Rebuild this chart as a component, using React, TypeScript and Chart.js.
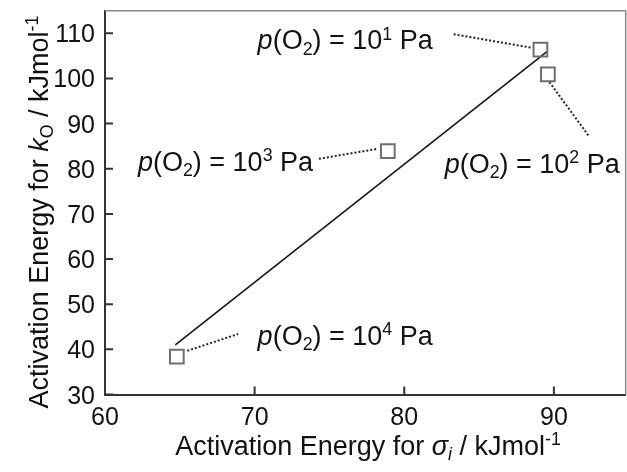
import React, { useEffect, useRef } from "react";
import { Chart, registerables } from "chart.js";

Chart.register(...registerables);

// ---- data ----
const xTickValues = [60, 70, 80, 90];
const yTickValues = [30, 40, 50, 60, 70, 80, 90, 100, 110];
const xMin = 60;
const xMax = 94.8;
const yMin = 30;
const yMax = 115;

// p(O2) exponents (Pa = 10^n)
const pressureExponents = ["1", "2", "3", "4"];
const sigmaEnergy = [89.1, 89.6, 78.9, 64.8]; // Activation energy for sigma_i
const kEnergy = [106.4, 100.9, 83.9, 38.4]; // Activation energy for k_O

const fitLineX = [64.7, 89.6];
const fitLineY = [41.0, 106.1];

// leader (dotted) lines between label and point, in data units
const leaderFromX = [83.3, 89.7, 74.3, 65.5];
const leaderFromY = [109.8, 99.2, 82.2, 39.7];
const leaderToX = [88.5, 92.3, 78.2, 68.9];
const leaderToY = [106.8, 87.4, 84.4, 43.4];

// label anchors (left edge, vertical middle) in data units
const labelAnchorX = [70.2, 82.7, 62.2, 70.2];
const labelAnchorY = [108.6, 81.2, 81.7, 43.2];

const FONT = "'Liberation Sans', Arial, Helvetica, sans-serif";
const TICK_SIZE = 25;
const LABEL_SIZE = 27;
const TITLE_SIZE = 27;

type Seg = { t: string; it?: boolean; sub?: boolean; sup?: boolean };

function segFont(s: Seg, size: number) {
  const sz = s.sub || s.sup ? size * 0.66 : size;
  return `${s.it ? "italic " : ""}${sz}px ${FONT}`;
}

function measureRich(ctx: CanvasRenderingContext2D, segs: Seg[], size: number) {
  let w = 0;
  for (const s of segs) {
    ctx.font = segFont(s, size);
    w += ctx.measureText(s.t).width;
  }
  return w;
}

function drawRich(
  ctx: CanvasRenderingContext2D,
  segs: Seg[],
  x: number,
  baseline: number,
  size: number
) {
  let cx = x;
  ctx.textBaseline = "alphabetic";
  ctx.textAlign = "left";
  for (const s of segs) {
    ctx.font = segFont(s, size);
    let y = baseline;
    if (s.sub) y += size * 0.2;
    if (s.sup) y -= size * 0.36;
    ctx.fillText(s.t, cx, y);
    cx += ctx.measureText(s.t).width;
  }
}

function pressureLabel(exp: string): Seg[] {
  return [
    { t: "p", it: true },
    { t: "(O" },
    { t: "2", sub: true },
    { t: ") = 10" },
    { t: exp, sup: true },
    { t: " Pa" },
  ];
}

const xTitle: Seg[] = [
  { t: "Activation Energy for " },
  { t: "\u03c3", it: true },
  { t: "i", it: true, sub: true },
  { t: " / kJmol" },
  { t: "-1", sup: true },
];
const yTitle: Seg[] = [
  { t: "Activation Energy for " },
  { t: "k", it: true },
  { t: "O", sub: true },
  { t: " / kJmol" },
  { t: "-1", sup: true },
];

const decorPlugin = {
  id: "decor",
  afterDraw(chart: any) {
    const ctx: CanvasRenderingContext2D = chart.ctx;
    const { left, right, top, bottom } = chart.chartArea;
    const xs = chart.scales.x;
    const ys = chart.scales.y;
    ctx.save();

    // top and right frame
    ctx.strokeStyle = "#8a8a8a";
    ctx.lineWidth = 1.5;
    ctx.beginPath();
    ctx.moveTo(left, top);
    ctx.lineTo(right, top);
    ctx.lineTo(right, bottom);
    ctx.stroke();

    // inward tick marks
    ctx.strokeStyle = "#333";
    ctx.lineWidth = 2;
    ctx.beginPath();
    for (const v of xTickValues) {
      const px = xs.getPixelForValue(v);
      ctx.moveTo(px, bottom);
      ctx.lineTo(px, bottom - 8);
    }
    for (const v of yTickValues) {
      const py = ys.getPixelForValue(v);
      ctx.moveTo(left, py);
      ctx.lineTo(left + 8, py);
    }
    ctx.stroke();

    // tick labels
    ctx.fillStyle = "#111";
    ctx.font = `${TICK_SIZE}px ${FONT}`;
    ctx.textAlign = "center";
    ctx.textBaseline = "alphabetic";
    for (const v of xTickValues) {
      const px = xs.getPixelForValue(v);
      ctx.fillText(String(v), px, bottom + 12 + TICK_SIZE * 0.72);
    }
    ctx.textAlign = "right";
    for (const v of yTickValues) {
      const py = ys.getPixelForValue(v);
      ctx.fillText(String(v), left - 10, py + TICK_SIZE * 0.36);
    }

    // point annotations
    for (let i = 0; i < pressureExponents.length; i++) {
      const px = xs.getPixelForValue(labelAnchorX[i]);
      const py = ys.getPixelForValue(labelAnchorY[i]);
      drawRich(ctx, pressureLabel(pressureExponents[i]), px, py + LABEL_SIZE * 0.36, LABEL_SIZE);
    }

    // x title
    const xw = measureRich(ctx, xTitle, TITLE_SIZE);
    const xc = 368;
    drawRich(ctx, xTitle, xc - xw / 2, 455, TITLE_SIZE);

    // y title
    const yw = measureRich(ctx, yTitle, TITLE_SIZE);
    ctx.save();
    ctx.translate(48, 212);
    ctx.rotate(-Math.PI / 2);
    drawRich(ctx, yTitle, -yw / 2, 0, TITLE_SIZE);
    ctx.restore();

    ctx.restore();
  },
};

export default function App() {
  const ref = useRef<HTMLCanvasElement | null>(null);

  useEffect(() => {
    if (!ref.current) return;
    const leaderSets = pressureExponents.map((_, i) => ({
      label: "leader" + i,
      data: [
        { x: leaderFromX[i], y: leaderFromY[i] },
        { x: leaderToX[i], y: leaderToY[i] },
      ],
      showLine: true,
      borderColor: "#222",
      borderWidth: 2,
      borderDash: [2, 2],
      pointRadius: 0,
      order: 2,
    }));
    const chart = new Chart(ref.current, {
      type: "scatter",
      data: {
        datasets: [
          {
            label: "points",
            data: sigmaEnergy.map((x, i) => ({ x, y: kEnergy[i] })),
            pointStyle: "rect",
            pointRadius: 9.7,
            pointBorderWidth: 2,
            pointBorderColor: "#6e6e6e",
            pointBackgroundColor: "rgba(255,255,255,0)",
            showLine: false,
            order: 0,
          } as any,
          {
            label: "fit",
            data: fitLineX.map((x, i) => ({ x, y: fitLineY[i] })),
            showLine: true,
            borderColor: "#151515",
            borderWidth: 1.6,
            pointRadius: 0,
            order: 1,
          } as any,
          ...(leaderSets as any[]),
        ],
      },
      options: {
        animation: false,
        responsive: false,
        devicePixelRatio: 1,
        layout: { autoPadding: false, padding: { left: 105, right: 1.3, top: 10.7, bottom: 77.5 } },
        plugins: { legend: { display: false }, tooltip: { enabled: false } },
        scales: {
          x: {
            type: "linear",
            min: xMin,
            max: xMax,
            grid: { display: false },
            ticks: { display: false },
            border: { display: true, color: "#333", width: 2 },
            afterFit: (s: any) => {
              s.height = 0;
            },
          },
          y: {
            type: "linear",
            min: yMin,
            max: yMax,
            grid: { display: false },
            ticks: { display: false },
            border: { display: true, color: "#333", width: 2 },
            afterFit: (s: any) => {
              s.width = 0;
            },
          },
        },
      } as any,
      plugins: [decorPlugin],
    });
    return () => chart.destroy();
  }, []);

  return (
    <div style={{ position: "absolute", left: 0, top: 0, width: 627, height: 472, background: "#fff" }}>
      <canvas ref={ref} width={627} height={472} style={{ display: "block" }} />
    </div>
  );
}
